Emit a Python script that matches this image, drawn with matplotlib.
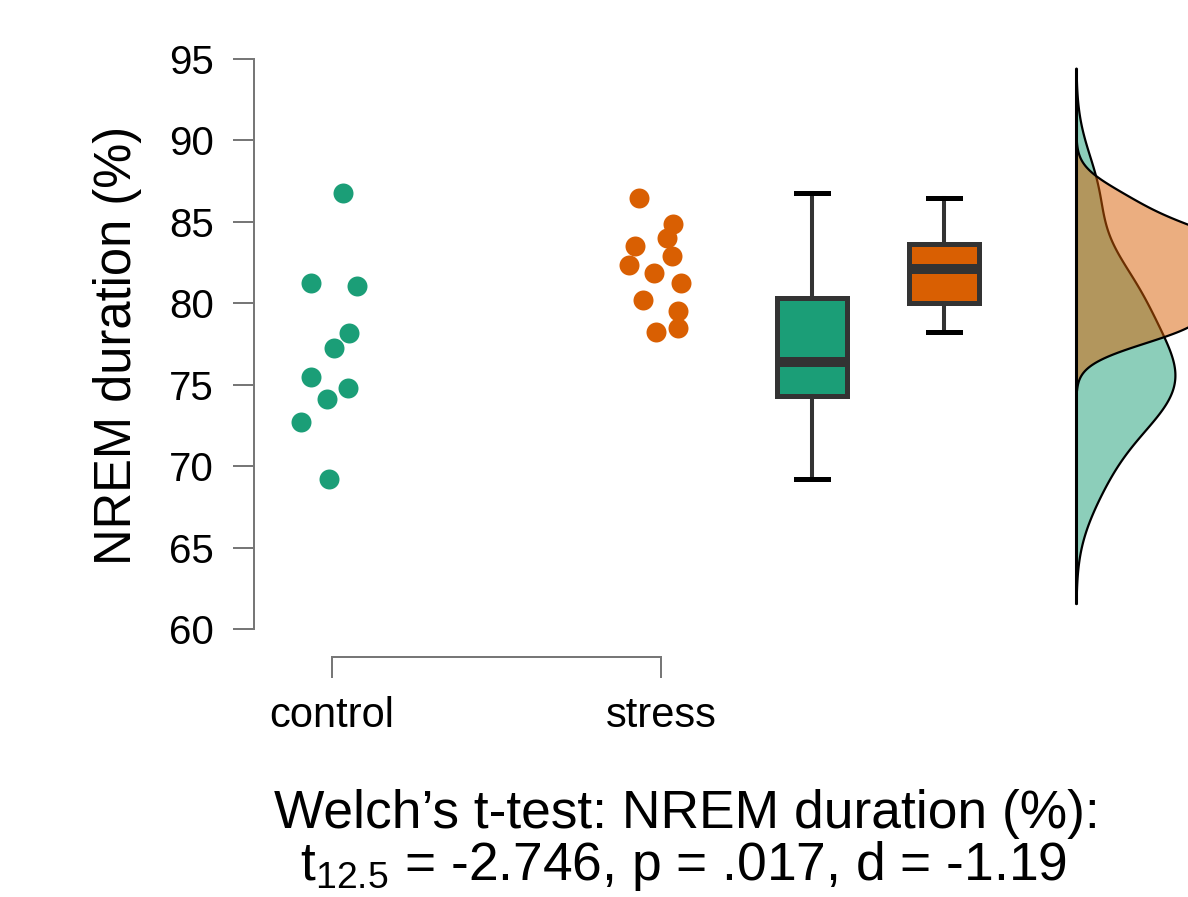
import numpy as np
import matplotlib
matplotlib.use('Agg')
import matplotlib.pyplot as plt
from matplotlib.colors import to_rgba

# ---------------- data ----------------
categories = ['control', 'stress']
control = [86.79, 81.26, 81.06, 78.19, 77.24, 75.49, 74.82, 74.10, 72.73, 69.21]
stress = [86.45, 84.85, 83.98, 82.93, 83.52, 82.38, 81.83, 81.26, 80.20, 79.55, 78.50, 78.24]
control_jitter = [0.033, -0.065, 0.077, 0.053, 0.006, -0.065, 0.049, -0.014, -0.095, -0.009]
stress_jitter = [-0.066, 0.036, 0.018, 0.033, -0.079, -0.096, -0.021, 0.061, -0.056, 0.053, 0.053, -0.015]
yticks = [60, 65, 70, 75, 80, 85, 90, 95]
bandwidths = [2.55, 1.2]
colors = ['#1B9E77', '#D95F02']
ylabel = 'NREM duration (%)'
title_line1 = 'Welch\u2019s t-test: NREM duration (%):'
title_line2 = r't$_{12.5}$ = -2.746, p = .017, d = -1.19'

# ---------------- style ----------------
plt.rcParams['font.family'] = ['Liberation Sans', 'DejaVu Sans']
plt.rcParams['mathtext.fontset'] = 'custom'
plt.rcParams['mathtext.rm'] = 'Liberation Sans'
plt.rcParams['mathtext.it'] = 'Liberation Sans'
plt.rcParams['mathtext.default'] = 'regular'

W, H, DPI = 1188, 897, 100
fig = plt.figure(figsize=(W / DPI, H / DPI), dpi=DPI)
ax = fig.add_axes([254 / W, (H - 629) / H, (W - 254) / W, (629 - 59) / H])
ax.set_xlim(0.7629, 3.6018)
ax.set_ylim(60, 95)

axis_gray = '#777777'
box_edge = '#333333'

# points
ax.scatter(1 + np.array(control_jitter), control,
           s=207, color=colors[0], linewidths=0, zorder=3, clip_on=False)
ax.scatter(2 + np.array(stress_jitter), stress,
           s=207, color=colors[1], linewidths=0, zorder=3, clip_on=False)

# boxes
bp = ax.boxplot([control, stress], positions=[2.459, 2.860], widths=0.213,
                patch_artist=True, showfliers=False, manage_ticks=False,
                boxprops=dict(linewidth=3.6, edgecolor=box_edge),
                medianprops=dict(color=box_edge, linewidth=7.2, solid_capstyle='butt'),
                whiskerprops=dict(color=box_edge, linewidth=2.9),
                capprops=dict(color='black', linewidth=3.6),
                capwidths=0.097)
for patch, c in zip(bp['boxes'], colors):
    patch.set_facecolor(c)

# densities
base = 3.261
dens_width = 0.301


def kde(vals, bw):
    v = np.asarray(vals)
    grid = np.linspace(v.min() - 3 * bw, v.max() + 3 * bw, 512)
    d = np.exp(-0.5 * ((grid[:, None] - v[None, :]) / bw) ** 2).sum(axis=1)
    d /= (len(v) * bw * np.sqrt(2 * np.pi))
    return grid, d


grids, dens = [], []
for vals, bw in zip([control, stress], bandwidths):
    g, d = kde(vals, bw)
    grids.append(g)
    dens.append(d)
scale = dens_width / dens[0].max()
for g, d, c in zip(grids, dens, colors):
    ax.fill_betweenx(g, base, base + d * scale, facecolor=to_rgba(c, 0.5),
                     edgecolor='black', linewidth=1.6, zorder=2)
ax.plot([base, base], [grids[0].min(), grids[0].max()], color='black', lw=2.2,
        solid_capstyle='butt', zorder=4)

# axes styling
for s in ['top', 'right']:
    ax.spines[s].set_visible(False)
ax.spines['left'].set_color(axis_gray)
ax.spines['left'].set_linewidth(1.44)
ax.spines['left'].set_bounds(60, 95)
ax.spines['bottom'].set_color(axis_gray)
ax.spines['bottom'].set_linewidth(1.44)
ax.spines['bottom'].set_bounds(1, 2)
ax.spines['bottom'].set_position(('outward', 20.2))

ax.set_yticks(yticks)
ax.set_yticklabels([str(t) for t in yticks])
ax.set_xticks([1, 2])
ax.set_xticklabels(categories)
ax.tick_params(axis='y', length=15, width=1.44, color=axis_gray, pad=14, labelsize=29)
ax.tick_params(axis='x', length=15, width=1.44, color=axis_gray, pad=13, labelsize=30)

fig.text(118 / W, 1 - 345 / H, ylabel, rotation=90, ha='center', va='center', fontsize=36.5)
fig.text(686.5 / W, 1 - 828 / H, title_line1, ha='center', va='baseline', fontsize=38.4)
fig.text(683 / W, 1 - 880 / H, title_line2, ha='center', va='baseline', fontsize=38.4)

fig.savefig('out.png', dpi=DPI)
